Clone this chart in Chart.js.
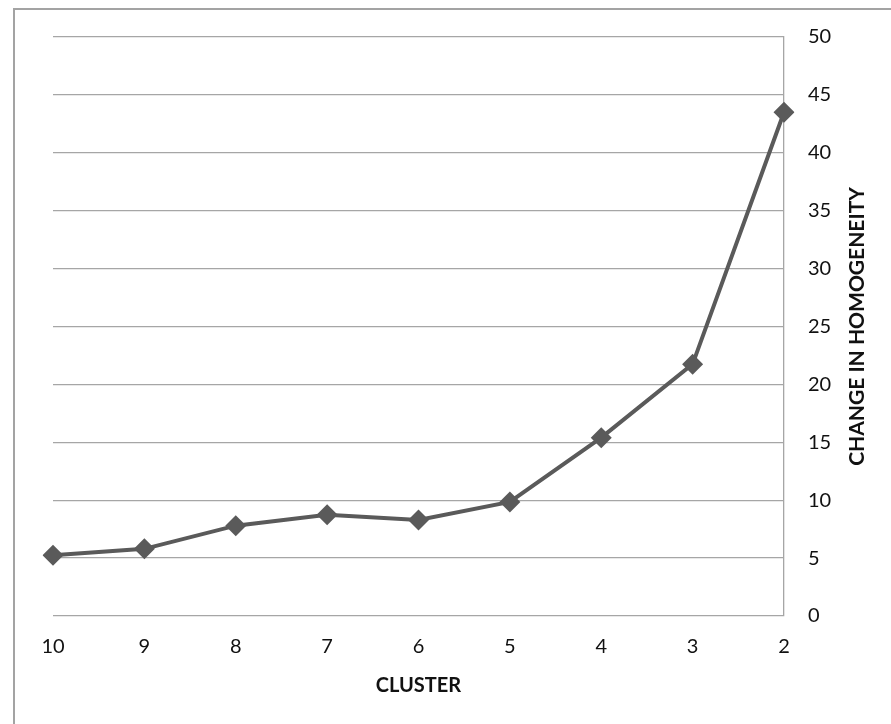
<!DOCTYPE html>
<html>
<head>
<meta charset="utf-8">
<title>Change in homogeneity by cluster</title>
<script src="https://cdn.jsdelivr.net/npm/chart.js@4.4.1/dist/chart.umd.min.js"></script>
<style>
    html, body { margin: 0; padding: 0; background: #fff; overflow: hidden; }
    #wrap { position: relative; width: 891px; height: 724px; }
    #frame {
        position: absolute; left: 13px; top: 8px;
        width: 2000px; height: 2000px;
        border: 2px solid #a3a3a3;
    }
    #homogeneityChart { position: absolute; left: 0; top: 0; }
</style>
</head>
<body>
<div id="wrap">
    <div id="frame"></div>
    <canvas id="homogeneityChart" width="891" height="724"></canvas>
</div>
<script>
// datos
const clusters = ['10', '9', '8', '7', '6', '5', '4', '3', '2'];
const homogeneityChange = [5.25, 5.8, 7.8, 8.75, 8.3, 9.85, 15.4, 21.75, 43.5];
const yMin = 0;
const yMax = 50;
const yStep = 5;

const xTitle = 'CLUSTER';
const yTitle = 'CHANGE IN HOMOGENEITY';

const fontFamily = 'Lato, "Open Sans", sans-serif';
const textColor = '#111';
const gridColor = '#a6a6a6';

// título del eje derecho, girado de abajo hacia arriba
const rightTitlePlugin = {
    id: 'rightTitle',
    afterDraw(chart) {
        const area = chart.chartArea;
        const ctx = chart.ctx;
        ctx.save();
        ctx.translate(857, (area.top + area.bottom) / 2);
        ctx.rotate(-Math.PI / 2);
        ctx.font = 'bold 21px ' + fontFamily;
        ctx.fillStyle = textColor;
        ctx.textAlign = 'center';
        ctx.textBaseline = 'middle';
        ctx.fillText(yTitle, 0, 0);
        ctx.restore();
    }
};

document.addEventListener("DOMContentLoaded", () => {
    const ctx = document.getElementById("homogeneityChart");

    new Chart(ctx, {
        type: 'line',
        data: {
            labels: clusters,
            datasets: [{
                label: yTitle,
                data: homogeneityChange,
                borderColor: '#5a5a5a',
                backgroundColor: '#5a5a5a',
                borderWidth: 4,
                tension: 0,
                pointStyle: 'rectRot',
                pointRadius: 10.5,
                pointBorderWidth: 0,
                pointBackgroundColor: '#5a5a5a'
            }]
        },
        options: {
            responsive: false,
            animation: false,
            layout: {
                padding: { left: 53, top: 37, right: 0, bottom: 0 }
            },
            plugins: {
                legend: { display: false },
                tooltip: { enabled: false }
            },
            scales: {
                x: {
                    offset: false,
                    grid: { display: false, drawTicks: false },
                    border: { display: false },
                    ticks: {
                        color: textColor,
                        padding: 19,
                        font: { family: fontFamily, size: 20 }
                    },
                    title: {
                        display: true,
                        text: xTitle,
                        color: textColor,
                        font: { family: fontFamily, size: 20, weight: 'bold' },
                        padding: { top: 4, bottom: 26 }
                    },
                    afterFit: (scale) => { scale.height = 108; }
                },
                y: {
                    position: 'right',
                    min: yMin,
                    max: yMax,
                    grid: {
                        color: gridColor,
                        lineWidth: 1.3,
                        drawTicks: false
                    },
                    border: { display: true, color: gridColor, width: 1.3 },
                    ticks: {
                        stepSize: yStep,
                        color: textColor,
                        padding: 24,
                        font: { family: fontFamily, size: 20 }
                    },
                    afterFit: (scale) => { scale.width = 107; }
                }
            }
        },
        plugins: [rightTitlePlugin]
    });
});
</script>
</body>
</html>
